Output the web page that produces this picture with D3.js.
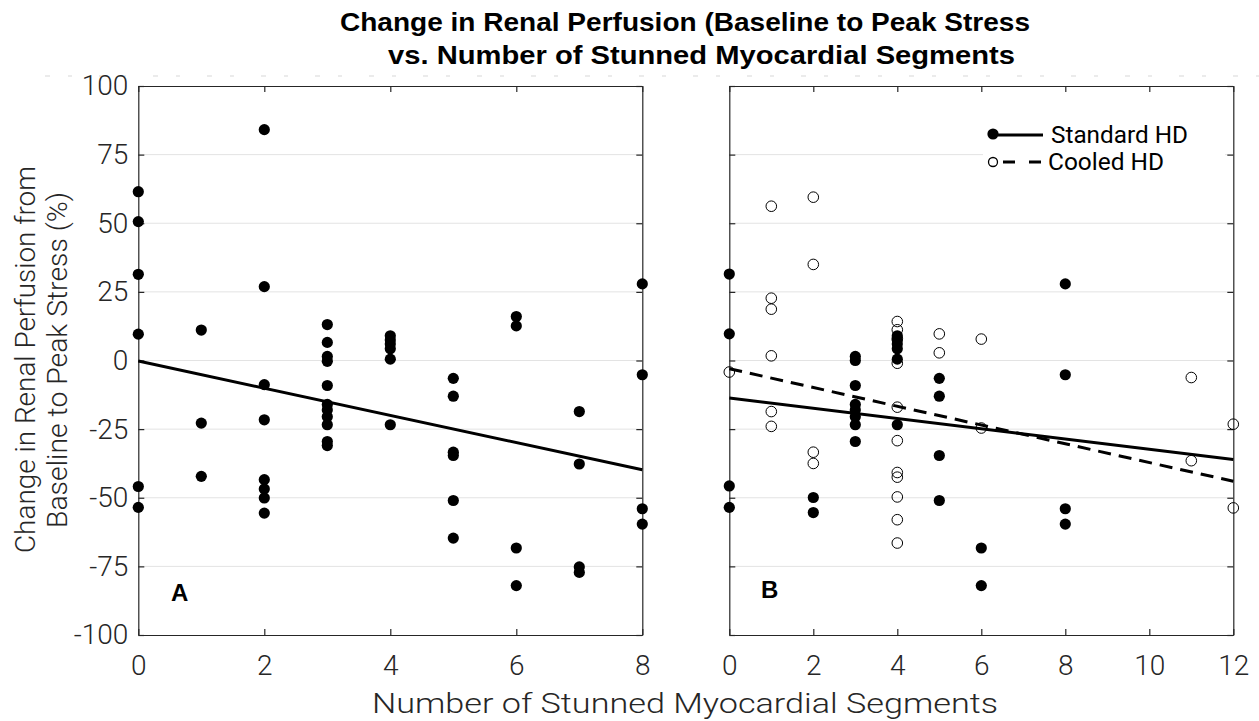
<!DOCTYPE html>
<html><head><meta charset="utf-8">
<script src="https://cdn.jsdelivr.net/npm/d3@7"></script>
<style>
body{margin:0;background:#fff;}
svg{display:block;}
.lt{font-family:Roboto,"Open Sans","Liberation Sans",sans-serif;font-weight:300;fill:#262626;}
.bd{font-family:"Liberation Sans",Arial,sans-serif;font-weight:bold;fill:#000;}
</style></head>
<body>
<svg id="c" width="1259" height="721"></svg>
<script>
// ---------- data ----------
const titleLines = ["Change in Renal Perfusion (Baseline to Peak Stress", "vs. Number of Stunned Myocardial Segments"];
const xLabel = "Number of Stunned Myocardial Segments";
const yLabelLines = ["Change in Renal Perfusion from", "Baseline to Peak Stress (%)"];
const yTicks = [-100, -75, -50, -25, 0, 25, 50, 75, 100];
const xTicksA = [0, 2, 4, 6, 8];
const xTicksB = [0, 2, 4, 6, 8, 10, 12];
const legendLabels = ["Standard HD", "Cooled HD"];

// Panel A: all patients
const aX = [0,0,0,0,0,0, 1,1,1, 2,2,2,2,2,2,2,2, 3,3,3,3,3,3,3,3,3,3,3, 4,4,4,4,4,4, 5,5,5,5,5,5, 6,6,6,6, 7,7,7,7, 8,8,8,8];
const aY = [61.5,50.6,31.4,9.6,-45.9,-53.5, 11.1,-22.8,-42.2, 84.1,26.9,-8.8,-21.6,-43.4,-46.8,-50.1,-55.6,
            13.1,6.6,1.5,-0.3,-9.1,-16,-18,-20.5,-23.4,-29.5,-31.0, 9,7.5,6,4.3,0.5,-23.4,
            -6.5,-13.0,-33.4,-34.6,-51.0,-64.7, 16.0,12.6,-68.3,-82.0, -18.6,-37.7,-75.2,-77.2, 27.9,-5.2,-54.0,-59.6];
const fitAX = [0, 8];
const fitAY = [-0.2, -39.8];

// Panel B: standard HD (filled)
const stdX = [0,0,0,0, 2,2, 3,3,3,3,3,3,3,3, 4,4,4,4,4,4, 5,5,5,5, 6,6, 8,8,8,8];
const stdY = [31.5,9.7,-45.7,-53.5, -49.9,-55.4, 1.5,0,-9.1,-16,-18,-20.5,-23.4,-29.5, 9,7.5,6,4.3,0.5,-23.4,
              -6.5,-13.0,-34.6,-51.0, -68.3,-82.0, 27.9,-5.2,-54.0,-59.6];
// Panel B: cooled HD (open)
const coolX = [0, 1,1,1,1,1,1, 2,2,2,2, 4,4,4,4,4,4,4,4,4,4,4, 5,5, 6,6, 11,11, 12,12];
const coolY = [-4.2, 56.2,22.7,18.7,1.7,-18.6,-24.0, 59.5,35.0,-33.4,-37.5,
               14.2,11.2,8,-1.0,-17.0,-29.2,-40.8,-42.5,-49.7,-58.0,-66.5, 9.7,2.8, 7.8,-24.6, -6.2,-36.5, -23.2,-53.7];
const fitStdX = [0, 12];
const fitStdY = [-13.7, -36.1];
const fitCoolX = [0, 12];
const fitCoolY = [-3.0, -44.0];

// ---------- drawing ----------
const svg = d3.select("#c");
const yTopPx = 86, yBotPx = 635;
const y = d3.scaleLinear().domain([-100, 100]).range([yBotPx, yTopPx]);
const xA = d3.scaleLinear().domain([0, 8]).range([138.3, 642.3]);
const xB = d3.scaleLinear().domain([0, 12]).range([729.3, 1233.3]);
const axisCol = "#262626";
const fmt = d => String(d);

// faint artifact line at top
svg.append("line").attr("x1", 45).attr("x2", 1259).attr("y1", 76).attr("y2", 76)
  .attr("stroke", "#d8d8d8").attr("stroke-width", 1.2).attr("stroke-dasharray", "5,18,4,27");

function panel(x, xTicks, showY) {
  const [x0, x1] = x.range();
  const g = svg.append("g");
  g.selectAll(".grid").data(yTicks.filter(t => t > -100 && t < 100)).enter().append("line")
    .attr("x1", x0).attr("x2", x1).attr("y1", d => y(d)).attr("y2", d => y(d))
    .attr("stroke", "#e3e3e3").attr("stroke-width", 1);
  const gl = g.append("g").attr("transform", `translate(${x0},0)`)
    .call(d3.axisLeft(y).tickValues(yTicks).tickSizeInner(-6).tickSizeOuter(0).tickPadding(10).tickFormat(showY ? fmt : () => ""));
  const gr = g.append("g").attr("transform", `translate(${x1},0)`)
    .call(d3.axisRight(y).tickValues(yTicks).tickSizeInner(-6).tickSizeOuter(0).tickFormat(() => ""));
  const gb = g.append("g").attr("transform", `translate(0,${yBotPx})`)
    .call(d3.axisBottom(x).tickValues(xTicks).tickSizeInner(-6).tickSizeOuter(0).tickPadding(20).tickFormat(fmt));
  const gt = g.append("g").attr("transform", `translate(0,${yTopPx})`)
    .call(d3.axisTop(x).tickValues(xTicks).tickSizeInner(-6).tickSizeOuter(0).tickFormat(() => ""));
  [gl, gr, gb, gt].forEach(a => {
    a.selectAll("path").attr("stroke", axisCol).attr("stroke-width", 1.2);
    a.selectAll("line").attr("stroke", axisCol).attr("stroke-width", 1.2);
    a.selectAll("text").attr("class", "lt").attr("font-size", 28).style("fill", axisCol);
  });
  gb.selectAll("text").attr("dy", "0.71em");
  return g;
}

const gA = panel(xA, xTicksA, true);
const gB = panel(xB, xTicksB, false);

const line = (sx) => d3.line().x(d => sx(d[0])).y(d => y(d[1]));

// Panel A
gA.append("path").datum(d3.zip(fitAX, fitAY)).attr("d", line(xA))
  .attr("fill", "none").attr("stroke", "#000").attr("stroke-width", 3);
gA.selectAll(".pa").data(d3.zip(aX, aY)).enter().append("circle")
  .attr("cx", d => xA(d[0])).attr("cy", d => y(d[1])).attr("r", 5.6).attr("fill", "#000");
gA.append("text").attr("class", "bd").attr("x", 171).attr("y", 601).attr("font-size", 24).text("A");

// Panel B
gB.append("path").datum(d3.zip(fitStdX, fitStdY)).attr("d", line(xB))
  .attr("fill", "none").attr("stroke", "#000").attr("stroke-width", 3);
gB.append("path").datum(d3.zip(fitCoolX, fitCoolY)).attr("d", line(xB))
  .attr("fill", "none").attr("stroke", "#000").attr("stroke-width", 3).attr("stroke-dasharray", "13,8");
gB.selectAll(".ps").data(d3.zip(stdX, stdY)).enter().append("circle")
  .attr("cx", d => xB(d[0])).attr("cy", d => y(d[1])).attr("r", 5.6).attr("fill", "#000");
gB.selectAll(".pc").data(d3.zip(coolX, coolY)).enter().append("circle")
  .attr("cx", d => xB(d[0])).attr("cy", d => y(d[1])).attr("r", 5.3).attr("fill", "none")
  .attr("stroke", "#000").attr("stroke-width", 1);
gB.append("text").attr("class", "bd").attr("x", 761).attr("y", 598).attr("font-size", 24).text("B");

// Legend
const lg = svg.append("g");
lg.append("rect").attr("x", 983).attr("y", 117).attr("width", 242).attr("height", 62).attr("fill", "#fff");
lg.append("circle").attr("cx", 993).attr("cy", 134).attr("r", 5.6).attr("fill", "#000");
lg.append("line").attr("x1", 998).attr("x2", 1043).attr("y1", 135).attr("y2", 135).attr("stroke", "#000").attr("stroke-width", 3);
lg.append("circle").attr("cx", 993).attr("cy", 162).attr("r", 4.5).attr("fill", "none").attr("stroke", "#000").attr("stroke-width", 1.3);
lg.append("line").attr("x1", 1003).attr("x2", 1041).attr("y1", 162).attr("y2", 162).attr("stroke", "#000").attr("stroke-width", 3).attr("stroke-dasharray", "12,14");
lg.append("text").attr("class", "lt").attr("x", 1051).attr("y", 143).attr("font-size", 24)
  .attr("textLength", 137).attr("lengthAdjust", "spacingAndGlyphs")
  .style("fill", "#000").style("font-weight", 400).text(legendLabels[0]);
lg.append("text").attr("class", "lt").attr("x", 1048).attr("y", 170).attr("font-size", 24)
  .attr("textLength", 116).attr("lengthAdjust", "spacingAndGlyphs")
  .style("fill", "#000").style("font-weight", 400).text(legendLabels[1]);

// Title
svg.append("text").attr("class", "bd").attr("x", 340).attr("y", 31)
  .attr("font-size", 25).attr("textLength", 690).attr("lengthAdjust", "spacingAndGlyphs").text(titleLines[0]);
svg.append("text").attr("class", "bd").attr("x", 388).attr("y", 64)
  .attr("font-size", 25).attr("textLength", 627).attr("lengthAdjust", "spacingAndGlyphs").text(titleLines[1]);

// Axis labels
svg.append("text").attr("class", "lt").attr("x", 372).attr("y", 713)
  .attr("font-size", 28).attr("textLength", 626).attr("lengthAdjust", "spacingAndGlyphs").text(xLabel);
const yl = svg.append("text").attr("class", "lt").attr("transform", "translate(35,360) rotate(-90)")
  .attr("font-size", 27);
yl.append("tspan").attr("x", -193).attr("y", 0)
  .attr("textLength", 387).attr("lengthAdjust", "spacingAndGlyphs").text(yLabelLines[0]);
yl.append("tspan").attr("x", -168).attr("y", 32)
  .attr("textLength", 336).attr("lengthAdjust", "spacingAndGlyphs").text(yLabelLines[1]);
</script>
</body></html>
